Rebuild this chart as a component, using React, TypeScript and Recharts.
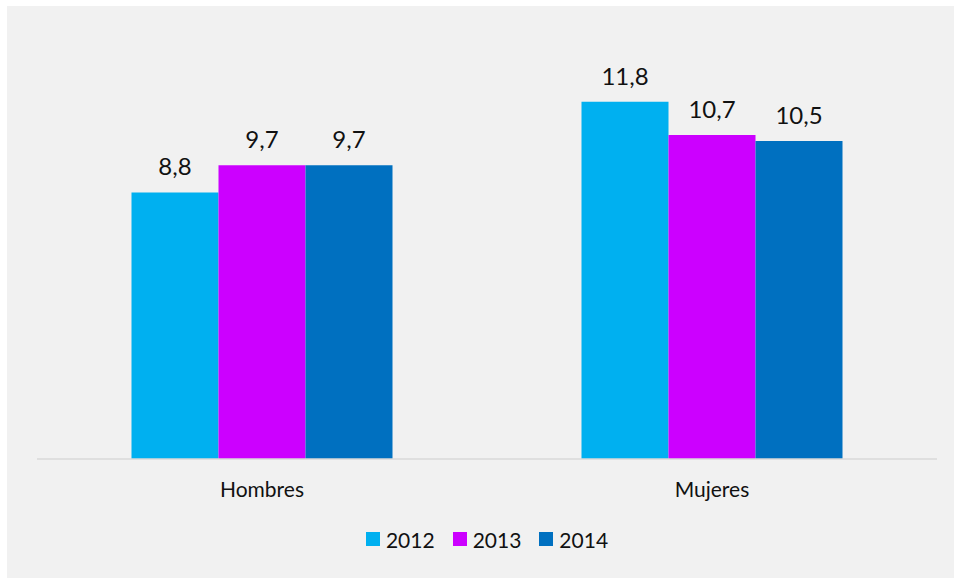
import { BarChart, Bar, XAxis, YAxis, Legend, LabelList } from "recharts";

const categories = ["Hombres", "Mujeres"];
const years = ["2012", "2013", "2014"];
const values2012 = [8.8, 11.8];
const values2013 = [9.7, 10.7];
const values2014 = [9.7, 10.5];
const colors = ["#00B0F0", "#CC00FF", "#0070C0"];

const data = categories.map((name, i) => ({
  name,
  "2012": values2012[i],
  "2013": values2013[i],
  "2014": values2014[i],
}));

const font = "Lato, 'Open Sans', sans-serif";

const fmt = (v: any) => String(v).replace(".", ",");

function LegendContent() {
  return (
    <div
      style={{
        height: 79,
        display: "flex",
        justifyContent: "center",
        alignItems: "center",
        paddingTop: 1,
        boxSizing: "border-box",
        fontFamily: font,
        fontSize: 21,
        color: "#111",
      }}
    >
      {years.map((y, i) => (
        <div key={y} style={{ display: "flex", alignItems: "center", margin: "0 9px" }}>
          <span style={{ width: 14, height: 14, background: colors[i], marginRight: 6, display: "inline-block" }} />
          <span>{y}</span>
        </div>
      ))}
    </div>
  );
}

export default function App() {
  return (
    <div style={{ position: "absolute", left: 7, top: 6, width: 947, height: 572, background: "#F1F1F1" }}>
      <BarChart
        width={947}
        height={572}
        data={data}
        margin={{ top: 29, right: 17, left: 30, bottom: 0 }}
        barCategoryGap="21%"
        barGap={0}
      >
        <XAxis
          dataKey="name"
          height={40}
          axisLine={{ stroke: "#D9D9D9", strokeWidth: 1.5 }}
          tickLine={false}
          tickMargin={17}
          tick={{ fontFamily: font, fontSize: 21, fill: "#111" }}
        />
        <YAxis hide domain={[0, 14]} />
        <Legend verticalAlign="bottom" height={79} content={<LegendContent />} />
        {years.map((y, i) => (
          <Bar key={y} dataKey={y} fill={colors[i]} isAnimationActive={false}>
            <LabelList
              dataKey={y}
              position="top"
              offset={17}
              formatter={fmt}
              style={{ fontFamily: font, fontSize: 24, fill: "#111" }}
            />
          </Bar>
        ))}
      </BarChart>
    </div>
  );
}
